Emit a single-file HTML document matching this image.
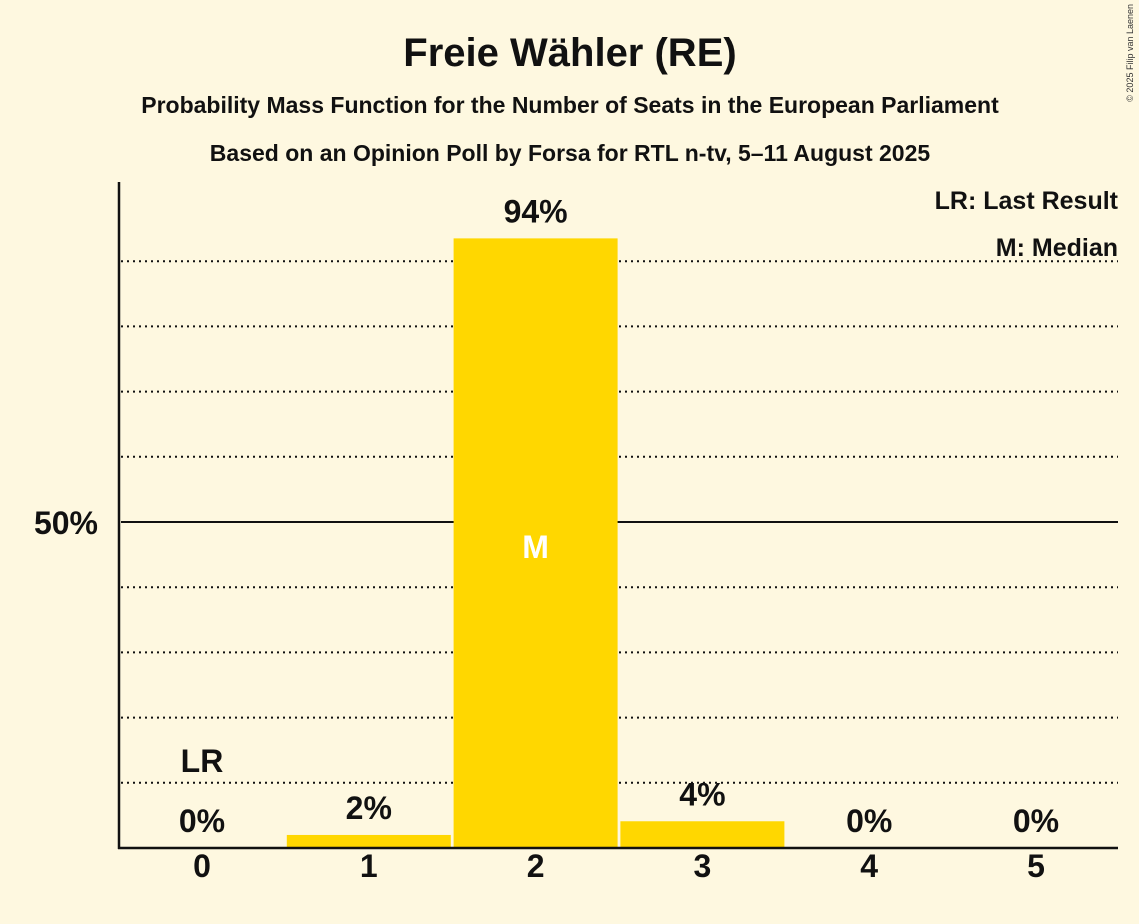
<!DOCTYPE html>
<html><head><meta charset="utf-8"><style>
body{margin:0;background:#FEF8E0;}
svg{display:block;font-family:"Liberation Sans",sans-serif;font-weight:bold;}
</style></head><body>
<svg id="chart" width="1139" height="924" viewBox="0 0 1139 924">
<rect width="1139" height="924" fill="#FEF8E0"/>
<text x="570" y="66" text-anchor="middle" font-size="40" fill="#111">Freie Wähler (RE)</text>
<text x="570" y="113" text-anchor="middle" font-size="23" fill="#111">Probability Mass Function for the Number of Seats in the European Parliament</text>
<text x="570" y="161" text-anchor="middle" font-size="23" fill="#111">Based on an Opinion Poll by Forsa for RTL n-tv, 5–11 August 2025</text>
<text x="1133" y="4" transform="rotate(-90 1133 4)" text-anchor="end" font-size="9" font-weight="normal" fill="#333">© 2025 Filip van Laenen</text>
<g id="grid"></g>
<g id="bars"></g>
<g id="labels"></g>
<line x1="119" y1="182" x2="119" y2="849" stroke="#111" stroke-width="2.5"/>
<line x1="118" y1="848" x2="1118" y2="848" stroke="#111" stroke-width="2.5"/>
<text x="98" y="534" text-anchor="end" font-size="32" fill="#111">50%</text>
<text x="1118" y="209" text-anchor="end" font-size="25" fill="#111">LR: Last Result</text>
<text x="1118" y="256" text-anchor="end" font-size="25" fill="#111">M: Median</text>
</svg>
<script>
const seats=[0,1,2,3,4,5];
const probs=[0,2,93.5,4.1,0,0];
const valueLabels=["0%","2%","94%","4%","0%","0%"];
const lastResult=0;
const median=2;
const NS="http://www.w3.org/2000/svg";
const y0=848,pxPer=6.52,x0=202,step=166.8,bw=164;
const ys=v=>y0-v*pxPer, xs=i=>x0+step*i;
function mk(tag,attrs,parent){const e=document.createElementNS(NS,tag);for(const k in attrs)e.setAttribute(k,attrs[k]);document.getElementById(parent).appendChild(e);return e;}
for(let g=10;g<100;g+=10){
 const l=mk('line',{x1:121,x2:1118,y1:ys(g),y2:ys(g),stroke:'#111','stroke-width':g===50?2:2,'stroke-dasharray':g===50?'':'2 4'},'grid');
 
 
}
seats.forEach((s,i)=>{
 const h=probs[i]*pxPer;
 const r=mk('rect',{x:xs(i)-bw/2,y:y0-h,width:bw,height:h,fill:'#FFD700'},'bars');
 
 
 const t=mk('text',{x:xs(i),y:(probs[i]>0?ys(probs[i]):y0)-16,'text-anchor':'middle','font-size':32,fill:'#111'},'labels');
 t.textContent=valueLabels[i];
 
 
 const xt=mk('text',{x:xs(i),y:877,'text-anchor':'middle','font-size':32,fill:'#111'},'labels');
 xt.textContent=String(s);
 
 
 if(s===lastResult){
  const lr=mk('text',{x:xs(i),y:(probs[i]>0?ys(probs[i]):y0)-76,'text-anchor':'middle','font-size':32,fill:'#111'},'labels');
  lr.textContent='LR';
  
  
 }
 if(s===median){
  const m=mk('text',{x:xs(i),y:ys(50)+36,'text-anchor':'middle','font-size':32,fill:'#fff'},'labels');
  m.textContent='M';
  
  
 }
});
</script>
</body></html>
